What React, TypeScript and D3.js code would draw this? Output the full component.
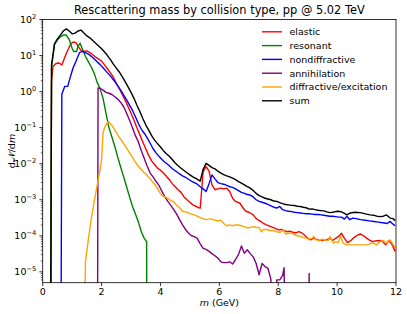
import React, { useEffect, useRef } from 'react';
import * as d3 from 'd3';

const title = 'Rescattering mass by collision type, pp @ 5.02 TeV';
const xTicks = [0, 2, 4, 6, 8, 10, 12];
const yExponents = [-5, -4, -3, -2, -1, 0, 1, 2];

// [m (GeV), dN/dm]; 0 = empty bin
const elastic: [number, number][] = [
  [0.25, 0], [0.3, 1.9], [0.35, 5], [0.45, 6], [0.55, 6.2], [0.65, 5.5], [0.75, 9], [0.85, 14], [0.95, 21],
  [1.05, 24], [1.15, 22], [1.2, 18], [1.3, 14], [1.4, 13], [1.5, 13.5], [1.6, 12], [1.7, 10.5], [1.8, 9],
  [1.9, 8], [2.0, 7], [2.1, 5.5], [2.2, 4.3], [2.3, 3.3], [2.4, 2.5], [2.5, 1.7], [2.6, 1.2], [2.7, 0.85],
  [2.8, 0.58], [2.9, 0.38], [3.0, 0.25], [3.1, 0.16], [3.2, 0.1], [3.3, 0.063], [3.4, 0.04], [3.5, 0.026],
  [3.6, 0.017], [3.7, 0.012], [3.8, 0.0095], [3.9, 0.0075], [4.0, 0.0066], [4.1, 0.0055], [4.2, 0.0045],
  [4.3, 0.0036], [4.4, 0.0028], [4.5, 0.0023], [4.6, 0.0019], [4.7, 0.0016], [4.8, 0.0012], [4.9, 0.001],
  [5.0, 0.00085], [5.1, 0.00072], [5.2, 0.00066], [5.3, 0.0006], [5.35, 0.00059], [5.4, 0.0019], [5.45, 0.006],
  [5.55, 0.0083], [5.65, 0.0062], [5.75, 0.0026], [5.85, 0.0019], [5.95, 0.002], [6.05, 0.0021], [6.15, 0.002],
  [6.25, 0.0021], [6.35, 0.0017], [6.45, 0.0011], [6.55, 0.0009], [6.7, 0.0008], [6.8, 0.0006], [6.9, 0.00048],
  [7.0, 0.00045], [7.15, 0.00038], [7.25, 0.0003], [7.4, 0.00025], [7.5, 0.00022], [7.6, 0.0002], [7.75, 0.00018],
  [7.9, 0.00016], [8.0, 0.000146], [8.1, 0.00015], [8.2, 0.00014], [8.3, 0.00013], [8.4, 0.000135], [8.5, 0.000125],
  [8.6, 0.00012], [8.7, 0.00013], [8.8, 0.00012], [8.9, 0.000104], [9.0, 8.5e-5], [9.1, 7.7e-5], [9.2, 8.6e-5],
  [9.3, 8e-5], [9.4, 7.4e-5], [9.55, 7.6e-5], [9.65, 7.7e-5], [9.75, 8.6e-5], [9.85, 7.4e-5], [9.95, 8.5e-5],
  [10.05, 9.6e-5], [10.15, 0.000117], [10.25, 8.5e-5], [10.35, 6.5e-5], [10.45, 7.2e-5], [10.55, 8.6e-5],
  [10.7, 0.000105], [10.8, 0.000112], [10.9, 0.0001], [11.0, 8.6e-5], [11.1, 7.6e-5], [11.2, 6.9e-5],
  [11.3, 7.2e-5], [11.45, 7.4e-5], [11.55, 6.9e-5], [11.65, 5.6e-5], [11.75, 7.4e-5], [11.85, 6e-5],
  [11.9, 5e-5], [11.97, 3.7e-5],
];

const resonant: [number, number][] = [
  [0.25, 0], [0.3, 4.6], [0.4, 20], [0.5, 27], [0.6, 33], [0.7, 37], [0.8, 37], [0.9, 28], [1.0, 16],
  [1.05, 13], [1.15, 13], [1.2, 18], [1.27, 22], [1.35, 15], [1.45, 9.5], [1.55, 6.8], [1.65, 4.8],
  [1.75, 3.2], [1.85, 1.8], [1.95, 1.2], [2.05, 0.65], [2.15, 0.25], [2.25, 0.1], [2.35, 0.055],
  [2.45, 0.03], [2.55, 0.015], [2.65, 0.008], [2.75, 0.0043], [2.85, 0.0023], [2.95, 0.0012],
  [3.05, 0.00065], [3.15, 0.0004], [3.25, 0.00024], [3.35, 0.00013], [3.45, 8.5e-5], [3.53, 6.9e-5], [3.55, 0],
];

const nondiffractive: [number, number][] = [
  [0.6, 0], [0.65, 0.85], [0.75, 1.4], [0.85, 1.4], [0.93, 2.4], [1.03, 4.5], [1.13, 6.9], [1.25, 12],
  [1.35, 13], [1.45, 12], [1.55, 11], [1.65, 9.5], [1.75, 8], [1.85, 6.7], [1.95, 5.6], [2.05, 4.6],
  [2.15, 3.7], [2.25, 3], [2.35, 2.4], [2.45, 1.9], [2.55, 1.45], [2.65, 1.1], [2.75, 0.8], [2.85, 0.59],
  [2.95, 0.42], [3.05, 0.3], [3.15, 0.2], [3.25, 0.13], [3.35, 0.09], [3.45, 0.07], [3.55, 0.052],
  [3.65, 0.037], [3.75, 0.026], [3.85, 0.02], [3.95, 0.016], [4.05, 0.013], [4.15, 0.011], [4.25, 0.0095],
  [4.35, 0.008], [4.45, 0.0068], [4.55, 0.006], [4.65, 0.0052], [4.75, 0.0046], [4.85, 0.0042],
  [4.95, 0.0037], [5.05, 0.0033], [5.15, 0.003], [5.25, 0.0027], [5.35, 0.0023], [5.45, 0.002],
  [5.55, 0.0017], [5.65, 0.0028], [5.75, 0.0049], [5.85, 0.0038], [5.95, 0.003], [6.05, 0.0028],
  [6.15, 0.0027], [6.25, 0.0025], [6.35, 0.0023], [6.45, 0.0022], [6.55, 0.002], [6.65, 0.0018],
  [6.75, 0.0016], [6.85, 0.0015], [6.95, 0.0014], [7.05, 0.00135], [7.15, 0.0012], [7.25, 0.001],
  [7.35, 0.0009], [7.45, 0.00085], [7.55, 0.0008], [7.65, 0.00074], [7.75, 0.00068], [7.85, 0.00062],
  [7.95, 0.00059], [8.05, 0.00065], [8.15, 0.00053], [8.25, 0.0005], [8.35, 0.00048], [8.45, 0.00047],
  [8.55, 0.00045], [8.65, 0.00044], [8.75, 0.00043], [8.85, 0.00042], [8.95, 0.00041], [9.05, 0.00041],
  [9.15, 0.0004], [9.25, 0.00039], [9.35, 0.00039], [9.45, 0.00038], [9.55, 0.00037], [9.65, 0.00036],
  [9.75, 0.00035], [9.85, 0.00035], [9.95, 0.00034], [10.05, 0.00033], [10.15, 0.00033], [10.25, 0.00029],
  [10.33, 0.00035], [10.43, 0.00028], [10.53, 0.00031], [10.65, 0.0003], [10.8, 0.00028], [10.95, 0.00027],
  [11.1, 0.00026], [11.25, 0.00025], [11.4, 0.00024], [11.55, 0.00023], [11.7, 0.00022], [11.8, 0.00025],
  [11.9, 0.00021], [11.97, 0.00019],
];

const annihilation: [number, number][] = [
  [1.85, 0], [1.88, 1.26], [1.95, 1.24], [2.05, 1.1], [2.15, 0.95], [2.25, 0.9], [2.35, 0.83], [2.45, 0.72],
  [2.55, 0.62], [2.65, 0.5], [2.75, 0.38], [2.85, 0.25], [2.95, 0.16], [3.05, 0.1], [3.15, 0.06], [3.25, 0.04],
  [3.35, 0.023], [3.45, 0.014], [3.55, 0.0085], [3.65, 0.0055], [3.75, 0.0043], [3.85, 0.0032], [3.95, 0.0025],
  [4.05, 0.0017], [4.15, 0.0012], [4.25, 0.0009], [4.35, 0.0007], [4.45, 0.00053], [4.55, 0.0004],
  [4.65, 0.00028], [4.75, 0.0002], [4.85, 0.00015], [4.95, 0.00012], [5.05, 0.0001], [5.15, 9.5e-5],
  [5.25, 8.5e-5], [5.35, 6e-5], [5.45, 4.5e-5], [5.55, 4.2e-5], [5.65, 3.7e-5], [5.75, 3.2e-5], [5.85, 2.8e-5],
  [5.95, 2.4e-5], [6.05, 1.9e-5], [6.15, 1.8e-5], [6.25, 1.8e-5], [6.35, 1.9e-5], [6.45, 1.65e-5],
  [6.55, 2.2e-5], [6.65, 3e-5], [6.75, 5.2e-5], [6.85, 3.3e-5], [6.95, 4.1e-5], [7.05, 3.2e-5], [7.15, 2.6e-5],
  [7.25, 1.7e-5], [7.35, 8.3e-6], [7.45, 1.7e-5], [7.55, 1.4e-5], [7.65, 1.26e-5], [7.75, 6.3e-6], [7.85, 0],
  [7.95, 6e-6], [8.05, 6e-6], [8.15, 8e-6], [8.2, 1.3e-5], [8.3, 0], [9.0, 0], [9.05, 9e-6], [9.1, 0],
];

const diffractive: [number, number][] = [
  [1.35, 0], [1.45, 1.8e-5], [1.55, 8e-5], [1.65, 3e-4], [1.75, 9e-4], [1.85, 0.0025], [1.95, 0.007],
  [2.0, 0.0127], [2.05, 0.07], [2.1, 0.1], [2.2, 0.14], [2.25, 0.145], [2.35, 0.115], [2.45, 0.085],
  [2.55, 0.062], [2.65, 0.047], [2.75, 0.036], [2.85, 0.027], [2.95, 0.02], [3.05, 0.015], [3.15, 0.011],
  [3.25, 0.0085], [3.35, 0.0068], [3.45, 0.0056], [3.55, 0.0047], [3.65, 0.0038], [3.75, 0.003],
  [3.85, 0.0024], [3.95, 0.0017], [4.05, 0.0013], [4.15, 0.0012], [4.25, 0.0011], [4.35, 0.00095],
  [4.45, 0.00088], [4.55, 0.0007], [4.65, 0.0006], [4.75, 0.00048], [4.85, 0.00046], [4.95, 0.00043],
  [5.05, 0.0004], [5.15, 0.00038], [5.25, 0.00035], [5.35, 0.00032], [5.45, 0.0003], [5.55, 0.00028],
  [5.65, 0.00029], [5.75, 0.00029], [5.85, 0.00027], [5.95, 0.00026], [6.05, 0.00027], [6.15, 0.00022],
  [6.25, 0.00019], [6.35, 0.0002], [6.45, 0.00019], [6.55, 0.0002], [6.65, 0.0002], [6.75, 0.00019],
  [6.85, 0.00018], [6.95, 0.000165], [7.05, 0.00017], [7.15, 0.00018], [7.25, 0.00017], [7.35, 0.00017],
  [7.42, 0.00013], [7.5, 0.00015], [7.6, 0.00015], [7.7, 0.00014], [7.8, 0.00014], [7.9, 0.000135],
  [8.0, 0.000125], [8.1, 0.00013], [8.17, 0.000146], [8.25, 0.000112], [8.35, 0.000118], [8.45, 0.00012],
  [8.55, 0.000107], [8.65, 0.0001], [8.75, 9.6e-5], [8.85, 9e-5], [8.95, 8.6e-5], [9.05, 8.1e-5],
  [9.15, 8.5e-5], [9.2, 9.6e-5], [9.3, 7.7e-5], [9.4, 7.4e-5], [9.5, 8.1e-5], [9.6, 7.6e-5], [9.7, 7.4e-5],
  [9.76, 9.6e-5], [9.87, 6.3e-5], [9.95, 6.8e-5], [10.04, 6.5e-5], [10.12, 9.6e-5], [10.2, 6.3e-5],
  [10.33, 5.6e-5], [10.45, 5.6e-5], [10.55, 5.6e-5], [10.7, 5.6e-5], [10.85, 5.6e-5], [11.0, 5.6e-5],
  [11.1, 6e-5], [11.23, 6.3e-5], [11.34, 5.6e-5], [11.46, 6.9e-5], [11.57, 7.4e-5], [11.68, 6.3e-5],
  [11.8, 7.7e-5], [11.91, 5.6e-5], [11.97, 4.6e-5],
];

const sum: [number, number][] = [
  [0.25, 0], [0.3, 5.5], [0.4, 21], [0.5, 29], [0.6, 37], [0.7, 48], [0.8, 55], [0.9, 48], [1.0, 40],
  [1.1, 42], [1.2, 48], [1.3, 51], [1.4, 42], [1.5, 35], [1.6, 31], [1.7, 26], [1.8, 22], [1.9, 18.5],
  [2.0, 15.5], [2.1, 12.5], [2.2, 10], [2.3, 7.7], [2.4, 5.8], [2.5, 4.5], [2.6, 3.5], [2.7, 2.6], [2.8, 1.9],
  [2.9, 1.35], [3.0, 0.95], [3.1, 0.65], [3.2, 0.42], [3.3, 0.28], [3.4, 0.18], [3.5, 0.12], [3.6, 0.085],
  [3.7, 0.06], [3.8, 0.045], [3.9, 0.036], [4.0, 0.029], [4.1, 0.023], [4.2, 0.019], [4.3, 0.016],
  [4.4, 0.013], [4.5, 0.0105], [4.6, 0.0088], [4.7, 0.0075], [4.8, 0.0065], [4.9, 0.0056], [5.0, 0.0049],
  [5.1, 0.0043], [5.2, 0.0039], [5.3, 0.0035], [5.35, 0.0033], [5.45, 0.007], [5.55, 0.0102], [5.65, 0.009],
  [5.75, 0.0078], [5.85, 0.0072], [5.95, 0.0062], [6.05, 0.0055], [6.15, 0.005], [6.25, 0.0046],
  [6.35, 0.0043], [6.45, 0.004], [6.55, 0.0036], [6.65, 0.0032], [6.75, 0.0029], [6.85, 0.0026],
  [6.95, 0.0023], [7.05, 0.0021], [7.15, 0.0018], [7.25, 0.0015], [7.35, 0.0013], [7.45, 0.0012],
  [7.55, 0.0011], [7.65, 0.00105], [7.75, 0.001], [7.85, 0.00092], [7.95, 0.0009], [8.05, 0.00083],
  [8.15, 0.00078], [8.25, 0.00074], [8.35, 0.00072], [8.45, 0.0007], [8.55, 0.00069], [8.65, 0.00066],
  [8.75, 0.00065], [8.85, 0.00062], [8.95, 0.0006], [9.05, 0.00055], [9.15, 0.00056], [9.25, 0.00053],
  [9.35, 0.00051], [9.45, 0.0005], [9.55, 0.00049], [9.65, 0.00046], [9.75, 0.00044], [9.85, 0.00045],
  [9.95, 0.00047], [10.05, 0.00048], [10.15, 0.00046], [10.25, 0.00042], [10.33, 0.00038], [10.45, 0.00043],
  [10.6, 0.00045], [10.78, 0.00044], [10.9, 0.00042], [11.0, 0.0004], [11.12, 0.00038], [11.25, 0.00037],
  [11.35, 0.00035], [11.46, 0.00034], [11.57, 0.00035], [11.68, 0.00038], [11.8, 0.00031], [11.9, 0.0003],
  [11.97, 0.00026],
];

const seriesList = [
  { label: 'elastic', color: 'red', data: elastic },
  { label: 'resonant', color: 'green', data: resonant },
  { label: 'nondiffractive', color: 'blue', data: nondiffractive },
  { label: 'annihilation', color: 'purple', data: annihilation },
  { label: 'diffractive/excitation', color: 'orange', data: diffractive },
  { label: 'sum', color: 'black', data: sum },
];

const W = 407;
const H = 314;
const FONT = '"DejaVu Sans", sans-serif';

const App = () => {
  const svgRef = useRef<SVGSVGElement>(null);

  useEffect(() => {
    const svg = d3.select(svgRef.current);
    svg.selectAll('*').remove();

    const left = 42.7, right = 396, top = 19.5, bottom = 282.7;

    const x = d3.scaleLinear().domain([0, 12]).range([left, right]);
    const y = d3.scaleLog().domain([5e-6, 100]).range([bottom, top]);

    svg.append('rect').attr('width', W).attr('height', H).attr('fill', '#fff');

    svg.append('defs').append('clipPath').attr('id', 'plot-clip')
      .append('rect')
      .attr('x', left).attr('y', top)
      .attr('width', right - left).attr('height', bottom - top);

    // curves
    const line = d3.line<[number, number]>()
      .x((d) => x(d[0]))
      .y((d) => y(Math.max(d[1], 1e-12)));

    const plot = svg.append('g').attr('clip-path', 'url(#plot-clip)');
    seriesList.forEach((s) => {
      plot.append('path')
        .datum(s.data)
        .attr('d', line)
        .attr('fill', 'none')
        .attr('stroke', s.color)
        .attr('stroke-width', 1.4)
        .attr('stroke-linejoin', 'round');
    });

    // frame
    svg.append('rect')
      .attr('x', left).attr('y', top)
      .attr('width', right - left).attr('height', bottom - top)
      .attr('fill', 'none').attr('stroke', '#000').attr('stroke-width', 0.8);

    // x ticks
    const xg = svg.append('g');
    xTicks.forEach((t) => {
      xg.append('line')
        .attr('x1', x(t)).attr('x2', x(t))
        .attr('y1', bottom).attr('y2', bottom + 3.3)
        .attr('stroke', '#000').attr('stroke-width', 0.8);
      xg.append('text')
        .attr('x', x(t)).attr('y', bottom + 11.8)
        .attr('text-anchor', 'middle')
        .attr('font-family', FONT).attr('font-size', 9.5)
        .text(t);
    });

    // y ticks (log, with minors)
    const yg = svg.append('g');
    yExponents.forEach((e) => {
      const ty = y(Math.pow(10, e));
      yg.append('line')
        .attr('x1', left - 3.3).attr('x2', left)
        .attr('y1', ty).attr('y2', ty)
        .attr('stroke', '#000').attr('stroke-width', 0.8);
      const label = yg.append('text')
        .attr('x', left - 6.4).attr('y', ty + 3.4)
        .attr('text-anchor', 'end')
        .attr('font-family', FONT).attr('font-size', 9.5);
      label.append('tspan').text('10');
      label.append('tspan')
        .attr('dy', -4.2)
        .attr('font-size', 6.7)
        .text(e < 0 ? `\u2212${-e}` : `${e}`);
    });
    for (let e = -6; e <= 1; e++) {
      for (let k = 2; k <= 9; k++) {
        const v = k * Math.pow(10, e);
        if (v < 5e-6 || v > 100) continue;
        yg.append('line')
          .attr('x1', left - 1.9).attr('x2', left)
          .attr('y1', y(v)).attr('y2', y(v))
          .attr('stroke', '#000').attr('stroke-width', 0.6);
      }
    }

    // axis labels
    const xl = svg.append('text')
      .attr('x', (left + right) / 2).attr('y', 305.5)
      .attr('text-anchor', 'middle')
      .attr('font-family', FONT).attr('font-size', 9.5);
    xl.append('tspan').attr('font-style', 'italic').text('m');
    xl.append('tspan').text(' (GeV)');

    const yl = svg.append('text')
      .attr('transform', `translate(15, ${(top + bottom) / 2}) rotate(-90)`)
      .attr('text-anchor', 'middle')
      .attr('font-family', FONT).attr('font-size', 9.5);
    yl.append('tspan').text('d');
    yl.append('tspan').text('\u{1D4A9}');
    yl.append('tspan').text('/d');
    yl.append('tspan').attr('font-style', 'italic').text('m');

    // title
    svg.append('text')
      .attr('x', (left + right) / 2).attr('y', 14.3)
      .attr('text-anchor', 'middle')
      .attr('font-family', FONT).attr('font-size', 11.4)
      .text(title);

    // legend
    const lg = svg.append('g');
    seriesList.forEach((s, i) => {
      const ry = 31.8 + i * 13.8;
      lg.append('line')
        .attr('x1', 262).attr('x2', 282)
        .attr('y1', ry).attr('y2', ry)
        .attr('stroke', s.color).attr('stroke-width', 1.4);
      lg.append('text')
        .attr('x', 289.5).attr('y', ry + 3.4)
        .attr('font-family', FONT).attr('font-size', 9.5)
        .text(s.label);
    });
  }, []);

  return (
    <svg
      ref={svgRef}
      width={W}
      height={H}
      style={{ position: 'absolute', left: 0, top: 0, display: 'block' }}
    />
  );
};

export default App;
